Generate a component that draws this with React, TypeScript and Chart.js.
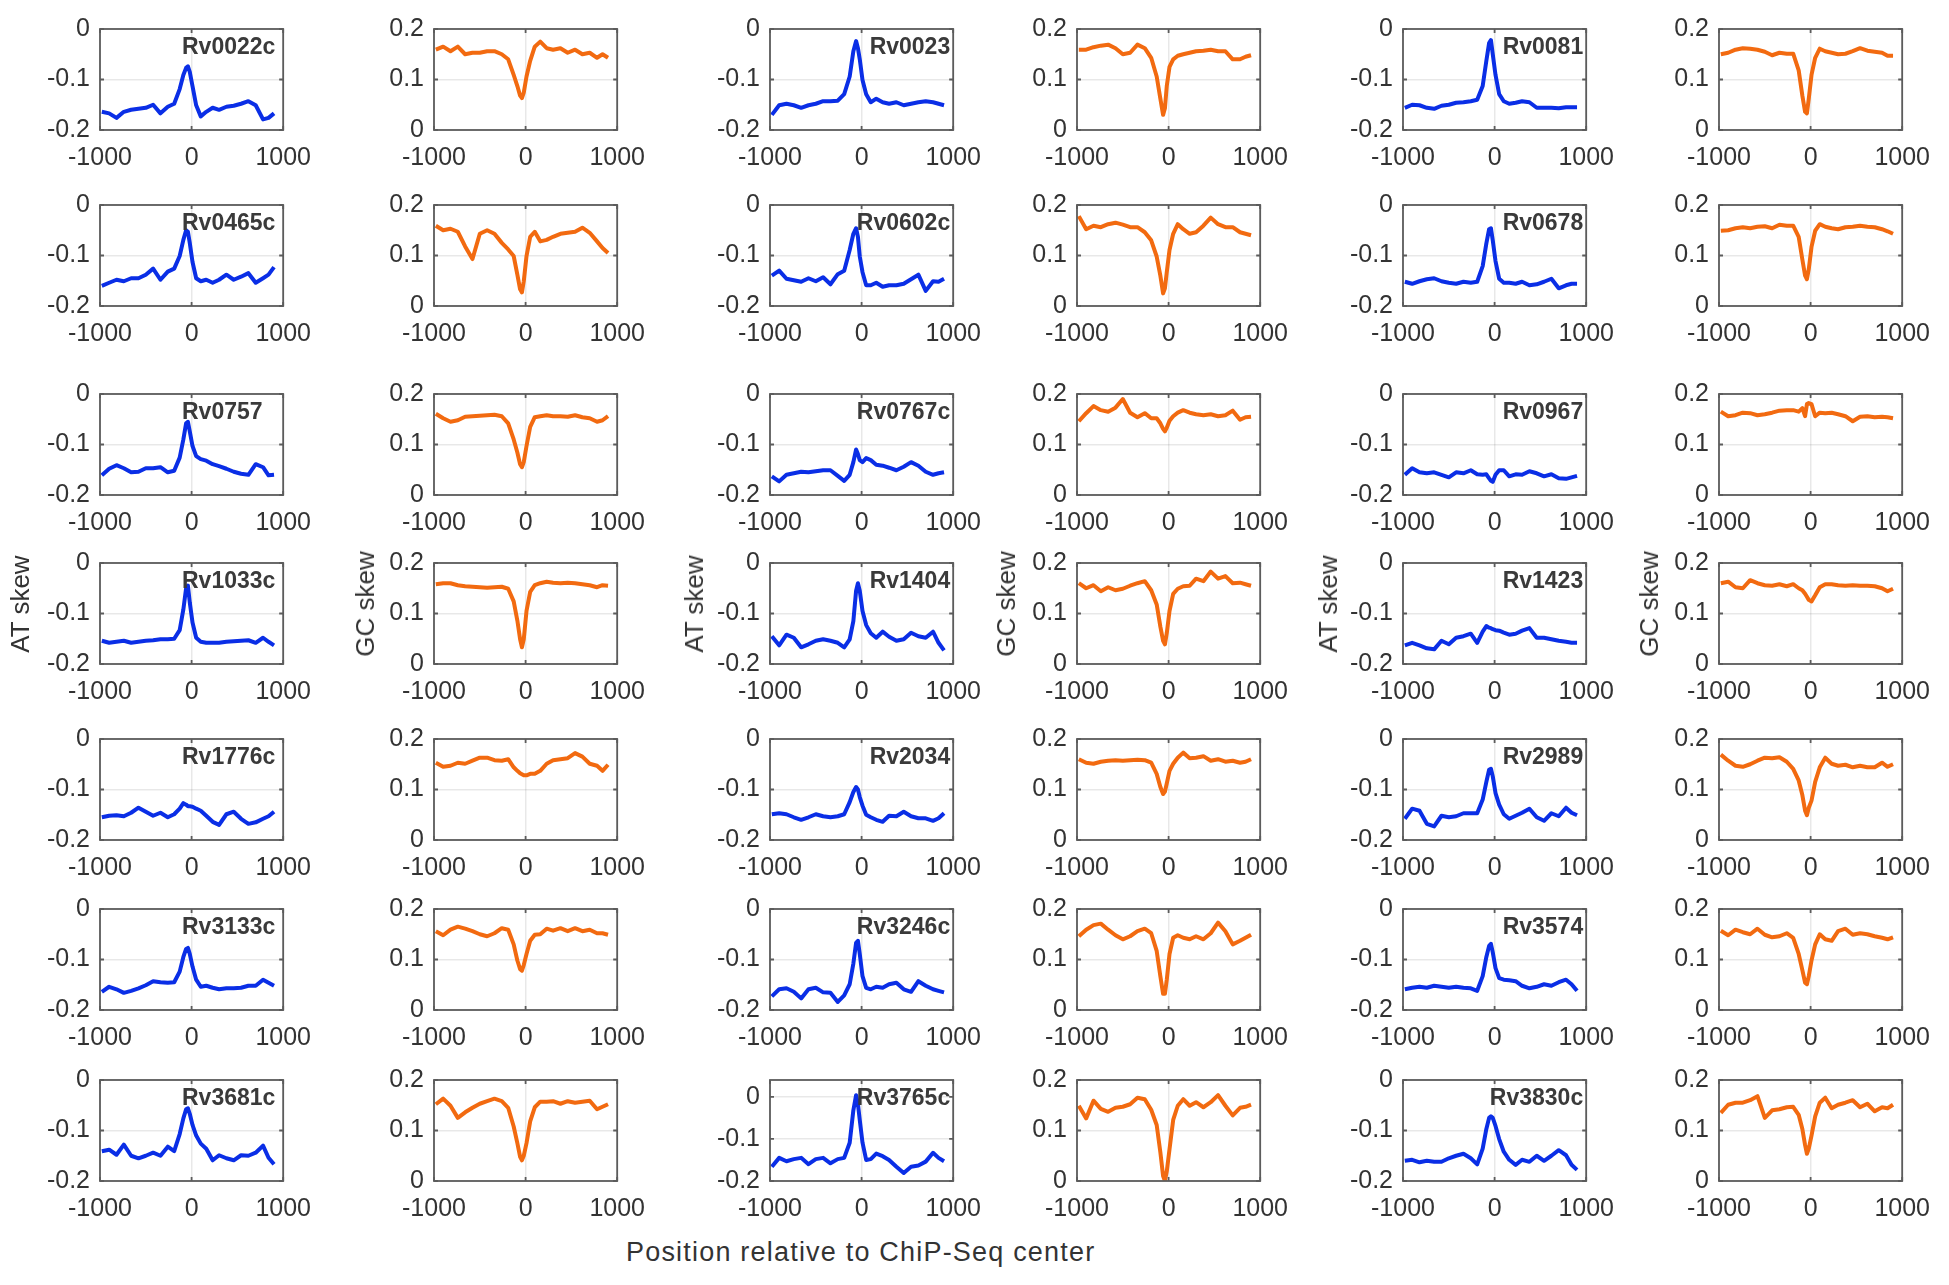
import { useEffect, useRef } from "react";
import { Chart, registerables } from "chart.js";

Chart.register(...registerables);

// positions (bp) shared by every profile
const POSITIONS = [-980, -900, -820, -740, -660, -580, -500, -420, -340, -260, -190, -130, -90, -60, -40, -20, 10, 50, 100, 160, 230, 300, 380, 460, 540, 620, 700, 780, 840, 900];

const X_TICKS = [-1000, 0, 1000];
const AT_TICKS = [-0.2, -0.1, 0];
const GC_TICKS = [0, 0.1, 0.2];

const rv0022c_at = [-0.164, -0.167, -0.176, -0.164, -0.16, -0.158, -0.156, -0.15, -0.167, -0.154, -0.148, -0.119, -0.091, -0.077, -0.074, -0.085, -0.113, -0.151, -0.173, -0.164, -0.156, -0.16, -0.154, -0.152, -0.148, -0.143, -0.151, -0.179, -0.176, -0.167];
const rv0022c_gc = [0.159, 0.165, 0.156, 0.165, 0.15, 0.153, 0.153, 0.156, 0.156, 0.15, 0.14, 0.109, 0.087, 0.068, 0.063, 0.074, 0.106, 0.137, 0.165, 0.175, 0.162, 0.159, 0.162, 0.153, 0.159, 0.15, 0.153, 0.143, 0.15, 0.143];
const rv0023_at = [-0.17, -0.151, -0.148, -0.151, -0.156, -0.151, -0.148, -0.143, -0.143, -0.142, -0.129, -0.094, -0.044, -0.024, -0.038, -0.06, -0.101, -0.129, -0.145, -0.138, -0.145, -0.148, -0.145, -0.151, -0.148, -0.145, -0.143, -0.145, -0.148, -0.151];
const rv0023_gc = [0.159, 0.159, 0.164, 0.167, 0.169, 0.162, 0.15, 0.153, 0.169, 0.162, 0.143, 0.106, 0.062, 0.03, 0.043, 0.087, 0.125, 0.14, 0.147, 0.15, 0.153, 0.156, 0.157, 0.159, 0.156, 0.156, 0.14, 0.14, 0.145, 0.148];
const rv0081_at = [-0.156, -0.15, -0.151, -0.156, -0.158, -0.152, -0.15, -0.146, -0.145, -0.143, -0.14, -0.113, -0.063, -0.028, -0.022, -0.05, -0.091, -0.129, -0.143, -0.148, -0.146, -0.143, -0.145, -0.156, -0.156, -0.156, -0.157, -0.155, -0.155, -0.155];
const rv0081_gc = [0.15, 0.153, 0.159, 0.162, 0.161, 0.159, 0.155, 0.148, 0.153, 0.151, 0.151, 0.118, 0.068, 0.036, 0.033, 0.062, 0.109, 0.143, 0.161, 0.156, 0.153, 0.15, 0.151, 0.156, 0.162, 0.157, 0.155, 0.153, 0.147, 0.147];
const rv0465c_at = [-0.16, -0.154, -0.148, -0.151, -0.145, -0.145, -0.138, -0.126, -0.148, -0.132, -0.126, -0.101, -0.069, -0.05, -0.053, -0.075, -0.113, -0.145, -0.151, -0.148, -0.154, -0.148, -0.138, -0.148, -0.142, -0.135, -0.154, -0.145, -0.138, -0.123];
const rv0465c_gc = [0.159, 0.15, 0.153, 0.147, 0.118, 0.093, 0.143, 0.15, 0.143, 0.125, 0.112, 0.099, 0.062, 0.033, 0.027, 0.049, 0.099, 0.137, 0.147, 0.128, 0.131, 0.137, 0.143, 0.145, 0.147, 0.155, 0.145, 0.128, 0.115, 0.105];
const rv0602c_at = [-0.14, -0.13, -0.146, -0.149, -0.152, -0.145, -0.151, -0.143, -0.157, -0.137, -0.13, -0.089, -0.057, -0.046, -0.063, -0.102, -0.133, -0.159, -0.159, -0.154, -0.162, -0.159, -0.159, -0.156, -0.147, -0.138, -0.17, -0.151, -0.152, -0.146];
const rv0602c_gc = [0.178, 0.152, 0.159, 0.156, 0.162, 0.165, 0.161, 0.156, 0.156, 0.146, 0.13, 0.098, 0.06, 0.025, 0.035, 0.067, 0.111, 0.143, 0.162, 0.152, 0.143, 0.146, 0.159, 0.175, 0.162, 0.156, 0.156, 0.146, 0.143, 0.14];
const rv0678_at = [-0.152, -0.156, -0.151, -0.147, -0.145, -0.151, -0.154, -0.156, -0.152, -0.154, -0.152, -0.121, -0.076, -0.048, -0.046, -0.07, -0.111, -0.146, -0.154, -0.154, -0.156, -0.152, -0.159, -0.157, -0.152, -0.146, -0.165, -0.159, -0.156, -0.156];
const rv0678_gc = [0.149, 0.15, 0.154, 0.156, 0.154, 0.157, 0.158, 0.154, 0.161, 0.159, 0.159, 0.137, 0.092, 0.06, 0.053, 0.073, 0.117, 0.149, 0.162, 0.157, 0.154, 0.152, 0.156, 0.157, 0.159, 0.157, 0.156, 0.152, 0.148, 0.143];
const rv0757_at = [-0.161, -0.148, -0.141, -0.147, -0.155, -0.154, -0.147, -0.147, -0.145, -0.155, -0.152, -0.126, -0.09, -0.058, -0.055, -0.074, -0.103, -0.123, -0.129, -0.132, -0.139, -0.143, -0.148, -0.154, -0.158, -0.16, -0.139, -0.145, -0.161, -0.16];
const rv0757_gc = [0.161, 0.152, 0.145, 0.148, 0.155, 0.156, 0.157, 0.158, 0.159, 0.156, 0.142, 0.11, 0.084, 0.061, 0.055, 0.065, 0.097, 0.135, 0.154, 0.156, 0.158, 0.156, 0.156, 0.155, 0.158, 0.154, 0.152, 0.145, 0.148, 0.156];
const rv0767c_at = [-0.163, -0.173, -0.16, -0.157, -0.154, -0.155, -0.153, -0.151, -0.151, -0.162, -0.172, -0.16, -0.135, -0.11, -0.119, -0.131, -0.135, -0.127, -0.131, -0.14, -0.142, -0.146, -0.151, -0.144, -0.135, -0.142, -0.154, -0.16, -0.157, -0.155];
const rv0767c_gc = [0.146, 0.162, 0.176, 0.168, 0.165, 0.173, 0.19, 0.163, 0.154, 0.162, 0.152, 0.152, 0.142, 0.131, 0.126, 0.133, 0.147, 0.156, 0.163, 0.168, 0.163, 0.16, 0.158, 0.16, 0.156, 0.158, 0.167, 0.149, 0.154, 0.155];
const rv0967_at = [-0.16, -0.147, -0.155, -0.157, -0.155, -0.16, -0.165, -0.155, -0.157, -0.151, -0.159, -0.16, -0.159, -0.167, -0.172, -0.174, -0.16, -0.151, -0.151, -0.163, -0.159, -0.16, -0.153, -0.157, -0.163, -0.159, -0.167, -0.168, -0.165, -0.162];
const rv0967_gc = [0.165, 0.156, 0.158, 0.163, 0.162, 0.158, 0.16, 0.163, 0.167, 0.168, 0.168, 0.165, 0.172, 0.156, 0.18, 0.182, 0.18, 0.156, 0.163, 0.162, 0.163, 0.16, 0.156, 0.146, 0.155, 0.156, 0.154, 0.155, 0.154, 0.152];
const rv1033c_at = [-0.154, -0.158, -0.156, -0.154, -0.158, -0.156, -0.154, -0.153, -0.151, -0.151, -0.15, -0.133, -0.092, -0.05, -0.045, -0.078, -0.118, -0.148, -0.156, -0.158, -0.158, -0.158, -0.156, -0.155, -0.154, -0.153, -0.158, -0.148, -0.156, -0.163];
const rv1033c_gc = [0.158, 0.16, 0.16, 0.156, 0.154, 0.153, 0.152, 0.151, 0.152, 0.153, 0.149, 0.124, 0.086, 0.049, 0.033, 0.049, 0.105, 0.143, 0.156, 0.16, 0.163, 0.161, 0.16, 0.161, 0.16, 0.158, 0.156, 0.152, 0.156, 0.155];
const rv1404_at = [-0.145, -0.163, -0.142, -0.148, -0.167, -0.161, -0.154, -0.151, -0.154, -0.158, -0.167, -0.151, -0.115, -0.055, -0.04, -0.055, -0.095, -0.123, -0.139, -0.148, -0.136, -0.146, -0.154, -0.151, -0.138, -0.145, -0.148, -0.136, -0.158, -0.173];
const rv1404_gc = [0.16, 0.15, 0.156, 0.144, 0.152, 0.146, 0.149, 0.155, 0.16, 0.164, 0.146, 0.118, 0.074, 0.046, 0.039, 0.061, 0.105, 0.139, 0.149, 0.154, 0.155, 0.169, 0.164, 0.183, 0.169, 0.174, 0.16, 0.161, 0.158, 0.155];
const rv1423_at = [-0.163, -0.158, -0.163, -0.169, -0.171, -0.154, -0.161, -0.148, -0.145, -0.14, -0.158, -0.136, -0.125, -0.128, -0.129, -0.131, -0.133, -0.134, -0.138, -0.142, -0.14, -0.134, -0.129, -0.148, -0.148, -0.151, -0.154, -0.156, -0.158, -0.158];
const rv1423_gc = [0.16, 0.163, 0.152, 0.15, 0.166, 0.16, 0.156, 0.155, 0.158, 0.154, 0.158, 0.15, 0.146, 0.139, 0.133, 0.127, 0.124, 0.136, 0.152, 0.158, 0.158, 0.156, 0.155, 0.156, 0.155, 0.155, 0.154, 0.15, 0.144, 0.149];
const rv1776c_at = [-0.155, -0.152, -0.151, -0.153, -0.146, -0.136, -0.144, -0.152, -0.146, -0.155, -0.149, -0.138, -0.127, -0.13, -0.133, -0.133, -0.134, -0.138, -0.142, -0.152, -0.164, -0.17, -0.149, -0.144, -0.158, -0.168, -0.165, -0.158, -0.153, -0.144];
const rv1776c_gc = [0.153, 0.145, 0.147, 0.153, 0.151, 0.157, 0.163, 0.163, 0.158, 0.157, 0.16, 0.144, 0.137, 0.132, 0.13, 0.128, 0.128, 0.131, 0.131, 0.137, 0.151, 0.158, 0.16, 0.162, 0.172, 0.165, 0.151, 0.147, 0.137, 0.149];
const rv2034_at = [-0.149, -0.147, -0.149, -0.155, -0.16, -0.155, -0.149, -0.153, -0.155, -0.153, -0.149, -0.125, -0.105, -0.095, -0.1, -0.115, -0.132, -0.15, -0.155, -0.16, -0.164, -0.152, -0.153, -0.144, -0.153, -0.157, -0.157, -0.162, -0.157, -0.147];
const rv2034_gc = [0.16, 0.153, 0.151, 0.155, 0.157, 0.158, 0.157, 0.158, 0.159, 0.158, 0.153, 0.131, 0.105, 0.091, 0.096, 0.112, 0.137, 0.151, 0.163, 0.173, 0.162, 0.163, 0.166, 0.157, 0.16, 0.155, 0.157, 0.153, 0.155, 0.16];
const rv2989_at = [-0.158, -0.138, -0.142, -0.168, -0.173, -0.152, -0.155, -0.153, -0.147, -0.147, -0.147, -0.12, -0.085, -0.061, -0.059, -0.074, -0.107, -0.13, -0.149, -0.158, -0.152, -0.146, -0.138, -0.155, -0.162, -0.147, -0.153, -0.136, -0.146, -0.151];
const rv2989_gc = [0.169, 0.157, 0.147, 0.145, 0.15, 0.157, 0.163, 0.162, 0.164, 0.155, 0.141, 0.118, 0.089, 0.058, 0.049, 0.064, 0.078, 0.115, 0.144, 0.163, 0.151, 0.147, 0.149, 0.144, 0.147, 0.144, 0.144, 0.153, 0.145, 0.15];
const rv3133c_at = [-0.164, -0.154, -0.159, -0.166, -0.162, -0.157, -0.151, -0.143, -0.145, -0.146, -0.145, -0.124, -0.095, -0.079, -0.077, -0.089, -0.114, -0.14, -0.154, -0.152, -0.156, -0.159, -0.157, -0.157, -0.156, -0.152, -0.152, -0.14, -0.146, -0.152];
const rv3133c_gc = [0.156, 0.148, 0.159, 0.165, 0.161, 0.156, 0.15, 0.146, 0.152, 0.162, 0.159, 0.13, 0.098, 0.081, 0.078, 0.089, 0.111, 0.137, 0.149, 0.15, 0.161, 0.157, 0.162, 0.156, 0.162, 0.156, 0.159, 0.152, 0.152, 0.149];
const rv3246c_at = [-0.173, -0.159, -0.157, -0.164, -0.177, -0.159, -0.156, -0.165, -0.166, -0.184, -0.171, -0.149, -0.108, -0.067, -0.063, -0.089, -0.133, -0.156, -0.159, -0.154, -0.156, -0.149, -0.146, -0.159, -0.164, -0.143, -0.152, -0.159, -0.162, -0.165];
const rv3246c_gc = [0.146, 0.159, 0.168, 0.171, 0.159, 0.148, 0.14, 0.146, 0.156, 0.161, 0.152, 0.117, 0.067, 0.032, 0.032, 0.06, 0.111, 0.143, 0.148, 0.143, 0.14, 0.146, 0.14, 0.152, 0.173, 0.156, 0.13, 0.137, 0.143, 0.149];
const rv3574_at = [-0.159, -0.156, -0.154, -0.156, -0.152, -0.154, -0.156, -0.154, -0.156, -0.157, -0.162, -0.133, -0.095, -0.073, -0.069, -0.086, -0.117, -0.137, -0.14, -0.141, -0.143, -0.152, -0.157, -0.154, -0.149, -0.152, -0.145, -0.14, -0.149, -0.162];
const rv3574_gc = [0.157, 0.148, 0.159, 0.154, 0.15, 0.161, 0.149, 0.144, 0.146, 0.152, 0.143, 0.111, 0.079, 0.054, 0.051, 0.067, 0.098, 0.13, 0.15, 0.14, 0.137, 0.156, 0.161, 0.149, 0.152, 0.15, 0.146, 0.143, 0.14, 0.144];
const rv3681c_at = [-0.141, -0.138, -0.148, -0.128, -0.15, -0.155, -0.15, -0.144, -0.15, -0.132, -0.141, -0.107, -0.076, -0.058, -0.056, -0.067, -0.089, -0.11, -0.126, -0.136, -0.159, -0.149, -0.155, -0.159, -0.149, -0.15, -0.144, -0.13, -0.154, -0.167];
const rv3681c_gc = [0.152, 0.163, 0.149, 0.125, 0.136, 0.145, 0.153, 0.158, 0.163, 0.158, 0.145, 0.108, 0.075, 0.048, 0.041, 0.05, 0.075, 0.118, 0.146, 0.157, 0.157, 0.158, 0.153, 0.158, 0.155, 0.157, 0.159, 0.142, 0.147, 0.152];
const rv3765c_at = [-0.166, -0.145, -0.153, -0.148, -0.145, -0.16, -0.148, -0.145, -0.158, -0.148, -0.145, -0.109, -0.032, 0.004, -0.017, -0.055, -0.109, -0.15, -0.148, -0.135, -0.141, -0.15, -0.166, -0.181, -0.166, -0.163, -0.154, -0.133, -0.145, -0.153];
const rv3765c_gc = [0.149, 0.124, 0.159, 0.143, 0.137, 0.145, 0.147, 0.152, 0.165, 0.162, 0.141, 0.111, 0.057, 0.01, 0.0, 0.019, 0.063, 0.121, 0.149, 0.162, 0.149, 0.156, 0.146, 0.156, 0.17, 0.149, 0.13, 0.145, 0.147, 0.151];
const rv3830c_at = [-0.16, -0.158, -0.163, -0.16, -0.162, -0.162, -0.155, -0.15, -0.146, -0.155, -0.167, -0.136, -0.097, -0.075, -0.072, -0.075, -0.091, -0.117, -0.142, -0.158, -0.168, -0.158, -0.162, -0.15, -0.16, -0.15, -0.139, -0.149, -0.168, -0.178];
const rv3830c_gc = [0.135, 0.151, 0.155, 0.155, 0.16, 0.168, 0.125, 0.14, 0.142, 0.146, 0.147, 0.131, 0.103, 0.071, 0.054, 0.064, 0.09, 0.128, 0.155, 0.165, 0.144, 0.151, 0.155, 0.16, 0.146, 0.153, 0.138, 0.146, 0.144, 0.151];

// row-major: three genes per row, each gene gets an AT panel and a GC panel
const GENES = [
  { name: "Rv0022c", at: rv0022c_at, gc: rv0022c_gc },
  { name: "Rv0023", at: rv0023_at, gc: rv0023_gc },
  { name: "Rv0081", at: rv0081_at, gc: rv0081_gc },
  { name: "Rv0465c", at: rv0465c_at, gc: rv0465c_gc },
  { name: "Rv0602c", at: rv0602c_at, gc: rv0602c_gc },
  { name: "Rv0678", at: rv0678_at, gc: rv0678_gc },
  { name: "Rv0757", at: rv0757_at, gc: rv0757_gc },
  { name: "Rv0767c", at: rv0767c_at, gc: rv0767c_gc },
  { name: "Rv0967", at: rv0967_at, gc: rv0967_gc },
  { name: "Rv1033c", at: rv1033c_at, gc: rv1033c_gc },
  { name: "Rv1404", at: rv1404_at, gc: rv1404_gc },
  { name: "Rv1423", at: rv1423_at, gc: rv1423_gc },
  { name: "Rv1776c", at: rv1776c_at, gc: rv1776c_gc },
  { name: "Rv2034", at: rv2034_at, gc: rv2034_gc },
  { name: "Rv2989", at: rv2989_at, gc: rv2989_gc },
  { name: "Rv3133c", at: rv3133c_at, gc: rv3133c_gc },
  { name: "Rv3246c", at: rv3246c_at, gc: rv3246c_gc },
  { name: "Rv3574", at: rv3574_at, gc: rv3574_gc },
  { name: "Rv3681c", at: rv3681c_at, gc: rv3681c_gc },
  { name: "Rv3765c", at: rv3765c_at, gc: rv3765c_gc },
  { name: "Rv3830c", at: rv3830c_at, gc: rv3830c_gc },
];

// one AT panel has a taller y range
const AT_Y_MAX: Record<string, number> = { Rv3765c: 0.04 };

// layout (px)
const COL_LEFT = [100, 434, 770, 1077, 1403, 1719];
const ROW_TOP = [24, 200, 389, 558, 734, 904, 1075];
const BOX_W = 184;
const BOX_H = 106;
const PAD_L = 62;
const PAD_T = 20;
const PAD_R = 40;
const PAD_B = 46;

const AT_TITLE_X = [20, 694, 1328];
const GC_TITLE_X = [365, 1006, 1649];
const TITLE_Y = 604;

const FONT = '"Liberation Sans", Arial, Helvetica, sans-serif';
const TEXT = "#333333";
const FRAME = "#5c5c5c";
const GRID = "rgba(0,0,0,0.09)";
const AT_COLOR = "#0a2ee6";
const GC_COLOR = "#f26a10";

type PanelProps = {
  values: number[];
  kind: "at" | "gc";
  label?: string;
  labelLeft?: boolean;
  yMax?: number;
  left: number;
  top: number;
};

function Panel({ values, kind, label, labelLeft, yMax, left, top }: PanelProps) {
  const canvasRef = useRef<HTMLCanvasElement>(null);
  const chartRef = useRef<Chart | null>(null);

  useEffect(() => {
    if (!canvasRef.current) return;
    if (chartRef.current) chartRef.current.destroy();

    const isAT = kind === "at";
    const yTicks = isAT ? AT_TICKS : GC_TICKS;

    const frame = {
      id: "panelFrame",
      afterDraw(chart: any) {
        const { ctx, chartArea: a, scales } = chart;
        ctx.save();
        ctx.strokeStyle = FRAME;
        ctx.lineWidth = 1.8;
        ctx.strokeRect(a.left, a.top, a.right - a.left, a.bottom - a.top);
        // small inward tick marks, matlab style
        ctx.beginPath();
        X_TICKS.forEach(v => {
          const px = scales.x.getPixelForValue(v);
          ctx.moveTo(px, a.top);
          ctx.lineTo(px, a.top + 4);
          ctx.moveTo(px, a.bottom);
          ctx.lineTo(px, a.bottom - 4);
        });
        yTicks.forEach(v => {
          const py = scales.y.getPixelForValue(v);
          ctx.moveTo(a.left, py);
          ctx.lineTo(a.left + 4, py);
          ctx.moveTo(a.right, py);
          ctx.lineTo(a.right - 4, py);
        });
        ctx.stroke();
        if (label) {
          ctx.font = `bold 23px ${FONT}`;
          ctx.fillStyle = "#3a3a3a";
          ctx.textBaseline = "middle";
          if (labelLeft) {
            ctx.textAlign = "left";
            ctx.fillText(label, a.left + 82, a.top + 19);
          } else {
            ctx.textAlign = "right";
            ctx.fillText(label, a.right - 3, a.top + 19);
          }
        }
        ctx.restore();
      }
    };

    const tickFont = { family: FONT, size: 25 };

    chartRef.current = new Chart(canvasRef.current, {
      type: "line",
      data: {
        datasets: [
          {
            data: POSITIONS.map((x, i) => ({ x, y: values[i] })),
            borderColor: isAT ? AT_COLOR : GC_COLOR,
            borderWidth: 4,
            borderJoinStyle: "round",
            pointRadius: 0,
            tension: 0,
            fill: false
          }
        ]
      },
      options: {
        animation: false,
        responsive: false,
        events: [],
        layout: { padding: { top: PAD_T, right: PAD_R, left: 0, bottom: 0 } },
        plugins: {
          legend: { display: false },
          tooltip: { enabled: false }
        },
        scales: {
          x: {
            type: "linear",
            min: -1000,
            max: 1000,
            afterBuildTicks: (axis: any) => {
              axis.ticks = X_TICKS.map(v => ({ value: v }));
            },
            afterFit: (axis: any) => {
              axis.height = PAD_B;
            },
            ticks: {
              font: tickFont,
              color: TEXT,
              padding: 13,
              maxRotation: 0,
              minRotation: 0,
              autoSkip: false,
              callback: (v: any) => String(v)
            },
            grid: { color: GRID, lineWidth: 1.5, drawTicks: false },
            border: { display: false }
          },
          y: {
            type: "linear",
            min: isAT ? -0.2 : 0,
            max: isAT ? (yMax ?? 0) : 0.2,
            afterBuildTicks: (axis: any) => {
              axis.ticks = yTicks.map(v => ({ value: v }));
            },
            afterFit: (axis: any) => {
              axis.width = PAD_L;
            },
            ticks: {
              font: tickFont,
              color: TEXT,
              padding: 10,
              callback: (v: any) => String(v)
            },
            grid: { color: GRID, lineWidth: 1.5, drawTicks: false },
            border: { display: false }
          }
        }
      },
      plugins: [frame]
    } as any);

    return () => {
      if (chartRef.current) {
        chartRef.current.destroy();
        chartRef.current = null;
      }
    };
  }, [values, kind, label, labelLeft, yMax]);

  return (
    <canvas
      ref={canvasRef}
      width={PAD_L + BOX_W + PAD_R}
      height={PAD_T + BOX_H + PAD_B}
      style={{ position: "absolute", left: left - PAD_L, top: top - PAD_T }}
    />
  );
}

function AxisTitle({ text, x, y }: { text: string; x: number; y: number }) {
  return (
    <div
      style={{
        position: "absolute",
        left: x,
        top: y,
        transform: "translate(-50%, -50%) rotate(-90deg)",
        fontFamily: FONT,
        fontSize: 26,
        lineHeight: "26px",
        color: TEXT,
        whiteSpace: "nowrap"
      }}
    >
      {text}
    </div>
  );
}

export default function App() {
  return (
    <div
      style={{
        position: "absolute",
        left: 0,
        top: 0,
        width: 1949,
        height: 1285,
        background: "#ffffff",
        overflow: "hidden"
      }}
    >
      {GENES.map((gene, g) => {
        const row = Math.floor(g / 3);
        const pair = g % 3;
        return [
          <Panel
            key={gene.name + "-at"}
            values={gene.at}
            kind="at"
            label={gene.name}
            labelLeft={pair === 0}
            yMax={AT_Y_MAX[gene.name]}
            left={COL_LEFT[pair * 2]}
            top={ROW_TOP[row]}
          />,
          <Panel
            key={gene.name + "-gc"}
            values={gene.gc}
            kind="gc"
            left={COL_LEFT[pair * 2 + 1]}
            top={ROW_TOP[row]}
          />
        ];
      })}
      {AT_TITLE_X.map(x => (
        <AxisTitle key={"at" + x} text="AT skew" x={x} y={TITLE_Y} />
      ))}
      {GC_TITLE_X.map(x => (
        <AxisTitle key={"gc" + x} text="GC skew" x={x} y={TITLE_Y} />
      ))}
      <div
        style={{
          position: "absolute",
          left: 626,
          top: 1239,
          fontFamily: FONT,
          fontSize: 27,
          lineHeight: "27px",
          letterSpacing: "1.2px",
          color: TEXT,
          whiteSpace: "nowrap"
        }}
      >
        Position relative to ChiP-Seq center
      </div>
    </div>
  );
}
